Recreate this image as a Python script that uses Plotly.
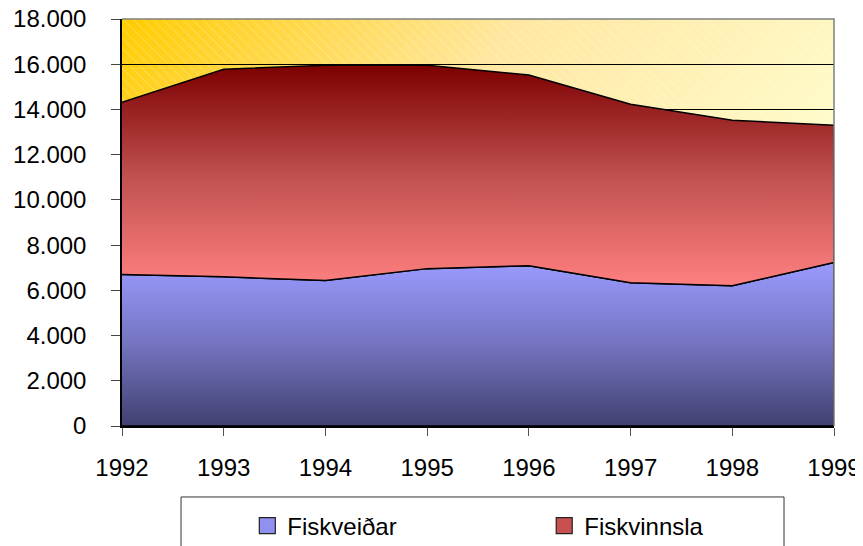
import base64
import plotly.graph_objects as go

years = [1992, 1993, 1994, 1995, 1996, 1997, 1998, 1999]
fiskveidar = [6700, 6600, 6430, 6960, 7090, 6340, 6200, 7230]
fiskvinnsla = [7620, 9180, 9530, 9000, 8430, 7890, 7320, 6070]
names = ["Fiskveiðar", "Fiskvinnsla"]
y_ticks = list(range(0, 18001, 2000))

totals = [a + b for a, b in zip(fiskveidar, fiskvinnsla)]
FONT = "Arial, Liberation Sans, sans-serif"
FS = 24

fig = go.Figure()

# Blue area (closed polygon from baseline)
fig.add_trace(go.Scatter(
    x=years + years[::-1], y=fiskveidar + [0] * len(years),
    fill="toself", mode="lines", line=dict(color="black", width=1.5),
    fillgradient=dict(type="vertical", start=0, stop=max(fiskveidar),
                      colorscale=[[0, "#404070"], [0.5, "#7474c0"], [1, "#9a9aff"]]),
    showlegend=False, hoverinfo="skip"))

# Red area stacked on blue
fig.add_trace(go.Scatter(
    x=years + years[::-1], y=totals + fiskveidar[::-1],
    fill="toself", mode="lines", line=dict(color="black", width=1.5),
    fillgradient=dict(type="vertical", start=min(fiskveidar), stop=max(totals),
                      colorscale=[[0, "#ff8080"], [0.5, "#c05050"], [1, "#7c0000"]]),
    showlegend=False, hoverinfo="skip"))

# Legend entries
fig.add_trace(go.Scatter(x=[None], y=[None], mode="markers", name=names[0],
                         marker=dict(symbol="square", size=16, color="#9090f0",
                                     line=dict(color="#222", width=1.2)),
                         legend="legend"))
fig.add_trace(go.Scatter(x=[None], y=[None], mode="markers", name=names[1],
                         marker=dict(symbol="square", size=16, color="#c85050",
                                     line=dict(color="#222", width=1.2)),
                         legend="legend2"))

svg = (
    "<svg xmlns='http://www.w3.org/2000/svg' width='712' height='407' preserveAspectRatio='none'>"
    "<defs><linearGradient id='g' x1='0' y1='0' x2='1' y2='0.5'>"
    "<stop offset='0' stop-color='#ffcc00'/><stop offset='0.45' stop-color='#ffe7a0'/>"
    "<stop offset='1' stop-color='#ffffd2'/></linearGradient>"
    "<pattern id='p' width='7' height='7' patternUnits='userSpaceOnUse' patternTransform='rotate(-45)'>"
    "<line x1='0' y1='0' x2='0' y2='7' stroke='#ffffff' stroke-opacity='0.22' stroke-width='2'/></pattern></defs>"
    "<rect width='100%' height='100%' fill='url(#g)'/><rect width='100%' height='100%' fill='url(#p)'/></svg>"
)
src = "data:image/svg+xml;base64," + base64.b64encode(svg.encode()).decode()

fig.update_layout(
    width=863, height=546,
    margin=dict(l=114, r=37, t=11, b=128, autoexpand=False),
    paper_bgcolor="white", plot_bgcolor="rgba(0,0,0,0)",
    font=dict(family=FONT, size=FS, color="black"),
    separators=",.",
    images=[dict(source=src, xref="paper", yref="paper", x=0, y=1, sizex=1, sizey=1,
                 xanchor="left", yanchor="top", sizing="stretch", layer="below")],
    xaxis=dict(range=[1992, 1999], tickvals=years, ticks="outside", ticklen=8,
               tickcolor="#555", showline=True, linecolor="black", linewidth=1.5,
               showgrid=False, zeroline=False, ticklabelstandoff=11,
               ticklabeloverflow="allow",
               tickfont=dict(size=FS, family=FONT)),
    yaxis=dict(range=[0, 18000], tickvals=y_ticks, tickformat=",.0f", ticks="outside",
               ticklen=9, tickcolor="#444", showline=True, linecolor="black", linewidth=1.5,
               showgrid=True, gridcolor="black", gridwidth=1, zeroline=False,
               ticklabelstandoff=20, ticklabeloverflow="allow",
               tickfont=dict(size=FS, family=FONT)),
    legend=dict(orientation="h", x=0.176, xanchor="left", y=-0.2457, yanchor="middle",
                bgcolor="rgba(0,0,0,0)", font=dict(size=FS, family=FONT)),
    legend2=dict(orientation="h", x=0.593, xanchor="left", y=-0.2457, yanchor="middle",
                 bgcolor="rgba(0,0,0,0)", font=dict(size=FS, family=FONT)),
    shapes=[
        dict(type="path", xref="paper", yref="paper", path="M0,1 L1,1 L1,0",
             line=dict(color="#808080", width=1.5), layer="above"),
        dict(type="rect", xref="paper", yref="paper", x0=0.0829, x1=0.9298,
             y0=-0.1744, y1=-0.45, line=dict(color="#333", width=1),
             fillcolor="white", layer="below"),
    ],
)

fig.write_html("out.html")
